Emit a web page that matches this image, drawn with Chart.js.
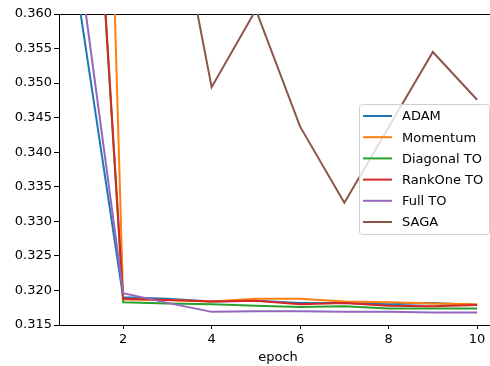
<!DOCTYPE html>
<html>
<head>
<meta charset="utf-8">
<script src="https://cdn.jsdelivr.net/npm/chart.js@4/dist/chart.umd.min.js"></script>
<style>
  html, body { margin: 0; padding: 0; background: #fff; overflow: hidden; }
  #wrap { width: 500px; height: 366px; }
</style>
</head>
<body>
<div id="wrap"><canvas id="myChart" width="500" height="366"></canvas></div>
<script>
// Loss per epoch
const epochs = [1, 2, 3, 4, 5, 6, 7, 8, 9, 10];
const adam = [0.3617, 0.3190, 0.3188, 0.3184, 0.3185, 0.3182, 0.3182, 0.3180, 0.3182, 0.3179];
const momentum = [0.539, 0.3187, 0.3186, 0.3184, 0.3188, 0.3188, 0.3184, 0.3183, 0.3181, 0.3180];
const diagonalTO = [0.4222, 0.3183, 0.3181, 0.3180, 0.3178, 0.3176, 0.3177, 0.3174, 0.3174, 0.3174];
const rankOneTO = [0.4226, 0.3188, 0.3186, 0.3184, 0.3185, 0.3180, 0.3182, 0.3178, 0.3177, 0.3179];
const fullTO = [0.3676, 0.3196, 0.3182, 0.3169, 0.3170, 0.3170, 0.3169, 0.3169, 0.3168, 0.3168];
const saga = [0.52, 0.41, 0.3827, 0.3494, 0.3606, 0.3437, 0.3327, 0.3436, 0.3545, 0.3476];

const xTicks = [2, 4, 6, 8, 10];
const seriesNames = ['ADAM', 'Momentum', 'Diagonal TO', 'RankOne TO', 'Full TO', 'SAGA'];
const seriesValues = [adam, momentum, diagonalTO, rankOneTO, fullTO, saga];
const colors = ['#1f77b4', '#ff7f0e', '#2ca02c', '#d62728', '#9467bd', '#8c564b'];

const FONT = 'DejaVu Sans';

// matplotlib-style legend box inside the plot
const boxLegend = {
    id: 'boxLegend',
    afterDraw(chart) {
        const ctx = chart.ctx;
        const x = 359, y = 104, w = 130, h = 130;
        ctx.save();
        ctx.beginPath();
        ctx.roundRect(x + 0.5, y + 0.5, w, h, 3);
        ctx.fillStyle = 'rgba(255,255,255,0.8)';
        ctx.fill();
        ctx.strokeStyle = '#d0d0d0';
        ctx.lineWidth = 1;
        ctx.stroke();
        ctx.font = '13px "' + FONT + '"';
        ctx.textBaseline = 'middle';
        ctx.fillStyle = '#000';
        chart.data.datasets.forEach((ds, i) => {
            const ly = 116 + i * 21.2;
            ctx.beginPath();
            ctx.moveTo(363, ly);
            ctx.lineTo(392, ly);
            ctx.strokeStyle = ds.borderColor;
            ctx.lineWidth = 2;
            ctx.stroke();
            ctx.fillText(ds.label, 402, ly + 1);
        });
        ctx.restore();
    }
};

const ctx = document.getElementById('myChart').getContext('2d');

new Chart(ctx, {
    type: 'line',
    data: {
        labels: epochs,
        datasets: seriesNames.map((name, i) => ({
            label: name,
            data: epochs.map((e, j) => ({ x: e, y: seriesValues[i][j] })),
            borderColor: colors[i],
            backgroundColor: colors[i],
            borderWidth: 2,
            pointRadius: 0,
            tension: 0,
            fill: false,
            order: seriesNames.length - i // later series drawn on top
        }))
    },
    options: {
        responsive: false,
        animation: false,
        devicePixelRatio: 1,
        layout: { padding: { top: 14, right: 3, left: 0, bottom: 0 } },
        plugins: {
            legend: { display: false },
            tooltip: { enabled: false }
        },
        scales: {
            x: {
                type: 'linear',
                min: 0.55,
                max: 10.45,
                afterBuildTicks: scale => { scale.ticks = xTicks.map(v => ({ value: v })); },
                afterFit: scale => { scale.height = 41; },
                grid: { drawOnChartArea: false, tickLength: 4, tickColor: '#000' },
                border: { display: true, color: '#000', width: 1 },
                ticks: { color: '#000', font: { family: FONT, size: 13 }, padding: 3, maxRotation: 0 },
                title: { display: true, text: 'epoch', color: '#000', font: { family: FONT, size: 13 }, padding: { top: 0, bottom: 1 } }
            },
            y: {
                min: 0.315,
                max: 0.360,
                afterFit: scale => { scale.width = 59; },
                grid: {
                    drawOnChartArea: true,
                    color: c => (c.tick && Math.abs(c.tick.value - 0.360) < 1e-6) ? '#000' : 'rgba(0,0,0,0)',
                    tickLength: 5,
                    tickColor: '#000'
                },
                border: { display: true, color: '#000', width: 1 },
                ticks: {
                    stepSize: 0.005,
                    color: '#000',
                    font: { family: FONT, size: 13 },
                    padding: 2,
                    callback: v => v.toFixed(3)
                }
            }
        }
    },
    plugins: [boxLegend]
});
</script>
</body>
</html>
